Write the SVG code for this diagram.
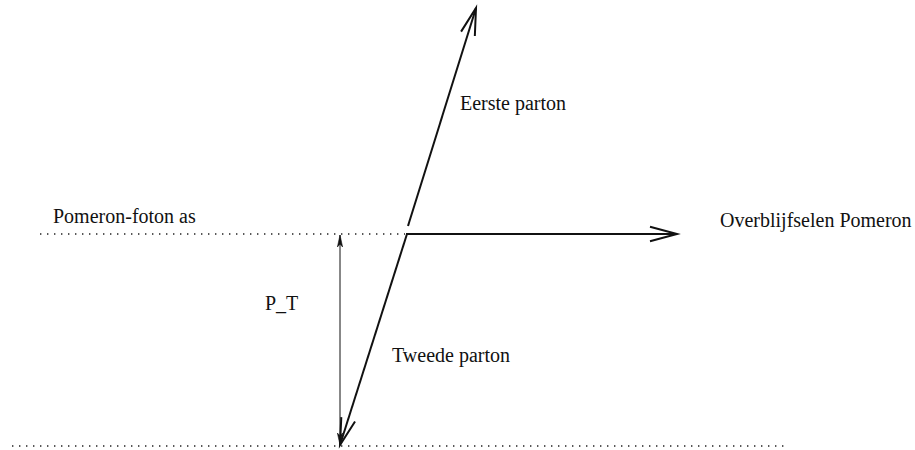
<svg xmlns="http://www.w3.org/2000/svg" width="915" height="450" viewBox="0 0 915 450">
  <style>
    .lbl { font-family: "Liberation Serif", "Times New Roman", serif; font-size: 20px; fill: #111; }
    .main { stroke: #111; stroke-width: 2; fill: none; }
    .thin { stroke: #111; stroke-width: 1; fill: none; }
    .dot { stroke: #222; stroke-width: 1.4; stroke-dasharray: 1.4 5.6; fill: none; }
  </style>
  <defs>
    <marker id="open" markerUnits="userSpaceOnUse" markerWidth="32" markerHeight="20" refX="0" refY="0" viewBox="-30 -10 32 20" orient="auto" overflow="visible">
      <path d="M -27 -7.2 L 0 0 L -27 7.2" fill="none" stroke="#111" stroke-width="2" stroke-linejoin="miter"/>
    </marker>
    <marker id="small" markerUnits="userSpaceOnUse" markerWidth="14" markerHeight="8" refX="0" refY="0" viewBox="-13 -4 14 8" orient="auto-start-reverse" overflow="visible">
      <path d="M -12 -2.6 L 0 0 L -12 2.6 L -9 0 Z" fill="#111" stroke="#111" stroke-width="0.6"/>
    </marker>
  </defs>

  <g id="axes">
    <line class="dot" x1="40" y1="234" x2="405" y2="234"/>
    <line class="dot" x1="12" y1="446" x2="785" y2="446"/>
  </g>

  <g id="connectors">
    <line id="eerste-arrow" class="main" x1="408" y1="226" x2="476" y2="8" marker-end="url(#open)"/>
    <line id="tweede-arrow" class="main" x1="407" y1="234" x2="340" y2="445" marker-end="url(#open)"/>
    <line id="pomeron-arrow" class="main" x1="406" y1="234" x2="677" y2="234" marker-end="url(#open)"/>
    <line id="pt-arrow" class="thin" x1="340" y1="235" x2="340" y2="445" marker-start="url(#small)" marker-end="url(#small)"/>
  </g>

  <g id="eerste-parton"><text class="lbl" x="460" y="110">Eerste parton</text></g>
  <g id="pomeron-foton-as"><text class="lbl" x="53" y="223">Pomeron-foton as</text></g>
  <g id="overblijfselen-pomeron"><text class="lbl" x="720" y="227">Overblijfselen Pomeron</text></g>
  <g id="pt"><text class="lbl" x="265" y="310">P_T</text></g>
  <g id="tweede-parton"><text class="lbl" x="392" y="362">Tweede parton</text></g>
</svg>
